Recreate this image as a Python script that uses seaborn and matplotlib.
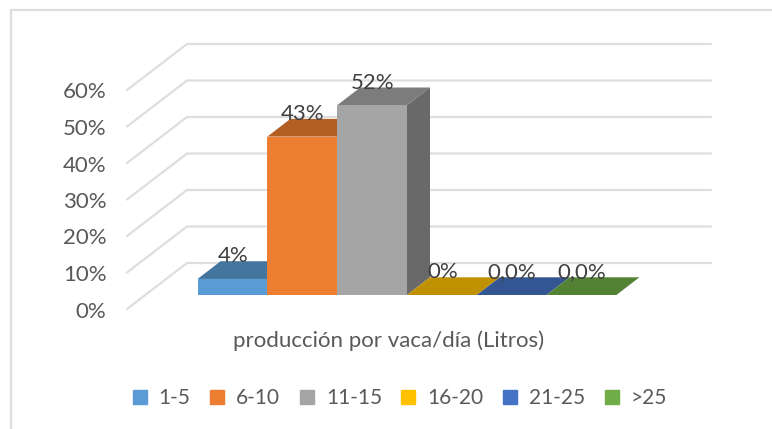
import matplotlib
matplotlib.use('Agg')
import matplotlib.pyplot as plt
from matplotlib.patches import Patch
import pandas as pd
import seaborn as sns

categories = ['1-5', '6-10', '11-15', '16-20', '21-25', '>25']
values = [4.4, 43.4, 52, 0, 0, 0]
value_labels = ['4%', '43%', '52%', '0%', '0,0%', '0,0%']
y_ticks = [0, 10, 20, 30, 40, 50, 60]
y_tick_labels = ['0%', '10%', '20%', '30%', '40%', '50%', '60%']
front_colors = ['#5B9BD5', '#ED7D31', '#A5A5A5', '#FFC000', '#4472C4', '#70AD47']
top_colors = ['#44759F', '#B35E23', '#7C7C7C', '#BF9000', '#335693', '#548235']
side_color = '#696969'
text_color = '#595959'
label_color = '#404040'
grid_color = '#DEDEDE'

# pixel geometry of the reference, everything else goes through data coords
W, H = 772, 429
PX_X, PX_Y = 69.8, 3.65
X0, Y0 = 232.5, 295

sns.set_theme(style='white')
plt.rcParams['font.family'] = ['Lato', 'DejaVu Sans']

df = pd.DataFrame({'cat': categories, 'val': values})

fig = plt.figure(figsize=(W / 100, H / 100), dpi=100)
ax = fig.add_axes([0, 0, 1, 1])
sns.barplot(data=df, x='cat', y='val', hue='cat', palette=front_colors, width=1,
            legend=False, saturation=1, ax=ax, zorder=5)
ax.set_xlim(-X0 / PX_X, (W - X0) / PX_X)
ax.set_ylim((Y0 - H) / PX_Y, Y0 / PX_Y)
ax.axis('off')


def dx(px):
    return px / PX_X


def dy(px):
    return px / PX_Y


# grid on the floor/back wall
left_x = (127 - X0) / PX_X
for t, lab in zip(y_ticks, y_tick_labels):
    y_front = t - dy(14)
    ax.plot([left_x, left_x + dx(60), (711 - X0) / PX_X],
            [y_front, y_front + dy(46), y_front + dy(46)],
            color=grid_color, lw=1.6, zorder=1, solid_joinstyle='miter')
    ax.text(left_x - dx(20.5), y_front - dy(2.5), lab, ha='right', va='center',
            fontsize=16, color=text_color)

# depth faces of the bars
depth_x, depth_y = dx(23), dy(17.7)
for i, v in enumerate(values):
    l, r = i - 0.5, i + 0.5
    ax.fill([l, r, r + depth_x, l + depth_x], [v, v, v + depth_y, v + depth_y],
            color=top_colors[i], lw=0, zorder=4 + i * 0.01)
    ax.fill([r, r + depth_x, r + depth_x, r], [0, depth_y, v + depth_y, v],
            color=side_color, lw=0, zorder=4 + i * 0.01)

for p in ax.patches:
    p.set_linewidth(0)

for i, (v, lab) in enumerate(zip(values, value_labels)):
    ax.text(i + dx(0.5), v + dy(22.5), lab, ha='center', va='center', fontsize=16,
            color=label_color, zorder=8)

ax.text((389 - X0) / PX_X, (Y0 - 341) / PX_Y, 'producción por vaca/día (Litros)',
        ha='center', va='center', fontsize=16, color=text_color)

handles = [Patch(color=c, label=k) for c, k in zip(front_colors, categories)]
ax.legend(handles=handles, ncol=6, frameon=False, loc='center',
          bbox_to_anchor=(400 / W, 1 - 398 / H), fontsize=15, labelcolor=text_color,
          handlelength=0.67, handleheight=0.67, handletextpad=0.58, columnspacing=0.94)

# chart frame: only top and left edges are inside the crop
fig.add_artist(plt.Line2D([11 / W, 11 / W, 1], [0, 1 - 10 / H, 1 - 10 / H], color=grid_color,
                          lw=1.6, transform=fig.transFigure, solid_joinstyle='miter'))

fig.savefig('out.png', dpi=100)
